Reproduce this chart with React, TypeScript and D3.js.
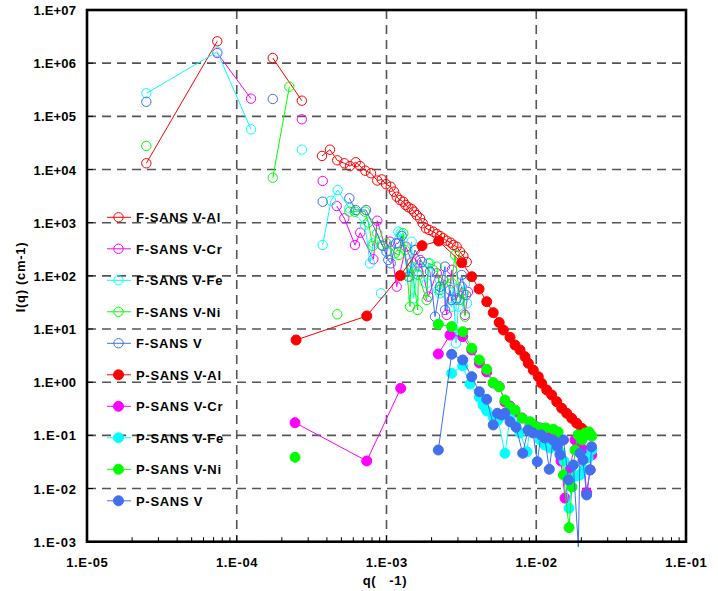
import React from "react";
import * as d3 from "d3";

// ---------- data (q in Å-1, I in cm-1); null marks a break in the line ----------
const F_AL_Q = [2.49e-5, 7.41e-5, null, 1.74e-4, 2.72e-4, null, 3.71e-4, 4.19e-4, 4.69e-4, 5.23e-4, 5.70e-4, 6.23e-4, 6.66e-4, 7.22e-4, 7.88e-4, 8.68e-4, 9.29e-4, 9.93e-4, 1.067e-3, 1.122e-3, 1.17e-3, 1.231e-3, 1.294e-3, 1.343e-3, 1.40e-3, 1.473e-3, 1.527e-3, 1.592e-3, 1.675e-3, 1.746e-3, 1.837e-3, 1.93e-3, 2.055e-3, 2.165e-3, 2.277e-3, 2.395e-3, 2.523e-3, 2.683e-3, 2.793e-3, 2.943e-3, 3.097e-3, 3.26e-3, 3.43e-3];
const F_AL_I = [1.31e4, 2.58e6, null, 1.25e6, 1.97e5, null, 1.80e4, 2.36e4, 1.49e4, 1.31e4, 1.16e4, 1.37e4, 1.16e4, 9.5e3, 8.5e3, 6.2e3, 6.5e3, 5.3e3, 4.75e3, 3.83e3, 3.08e3, 2.67e3, 2.48e3, 2.15e3, 1.95e3, 1.81e3, 1.61e3, 1.39e3, 1.21e3, 973, 783, 728, 676, 612, 561, 508, 458, 421, 380, 353, 284, 236, 182];

const F_CR_Q = [7.41e-5, 1.245e-4, null, 2.72e-4, null, 3.75e-4, null, 4.65e-4, 5.23e-4, 6.16e-4, 6.68e-4, 8.17e-4, 8.68e-4, 1.00e-3, 1.055e-3, 1.17e-3, 1.349e-3, 1.479e-3, 1.631e-3, 1.675e-3, 1.901e-3, 2.165e-3, 2.395e-3, 2.523e-3, 2.735e-3, 2.911e-3, 3.177e-3, 3.342e-3, 3.502e-3];
const F_CR_I = [1.55e6, 2.15e5, null, 8.80e4, null, 6.08e3, null, 2.06e3, 1.21e3, 380, 648, 205, 1.09e3, 284, 439, 62.5, 353, 182, 120, 199, 40.6, 112, 83.5, 18.4, 130, 35.2, 62.5, 18.4, 49.7];

const F_FE_Q = [2.49e-5, 7.41e-5, 1.245e-4, null, 2.72e-4, null, 3.75e-4, 4.26e-4, 4.72e-4, 5.65e-4, 7.18e-4, 7.76e-4, 8.17e-4, null, 9.19e-4, null, 1.00e-3, 1.199e-3, 1.244e-3, 1.435e-3, 1.473e-3, 1.510e-3, 1.631e-3, 1.855e-3, 1.951e-3, 2.218e-3, 2.277e-3, 2.723e-3, 2.793e-3, 2.911e-3, 3.015e-3, 3.342e-3, 3.45e-3];
const F_FE_I = [2.71e5, 1.64e6, 5.70e4, null, 2.36e4, null, 380, 2.59e3, 4.12e3, 1.87e3, 905, 172, 409, null, 47.0, null, 284, 676, 631, 96.4, 439, 37.8, 149, 72.4, 172, 54.2, 47.0, 26.3, 58.4, 5.4, 26.3, 72.4, 30.5];

const F_NI_Q = [2.49e-5, null, 1.74e-4, 2.245e-4, null, 4.69e-4, null, 5.65e-4, 6.16e-4, 7.18e-4, 7.56e-4, 8.09e-4, 8.68e-4, 9.29e-4, 1.00e-3, 1.140e-3, 1.211e-3, 1.294e-3, 1.329e-3, 1.435e-3, 1.473e-3, 1.616e-3, 1.631e-3, 1.855e-3, 1.901e-3, 2.165e-3, 2.277e-3, 2.395e-3, 2.723e-3, 2.866e-3, 3.097e-3, 3.26e-3, 3.342e-3];
const F_NI_I = [2.77e4, null, 7.02e3, 3.61e5, null, 18.9, null, 1.61e3, 1.61e3, 1.61e3, 1.01e3, 365, 631, 380, 409, 266, 247, 631, 306, 26.3, 149, 22.8, 104, 35.2, 172, 149, 54.2, 83.5, 72.4, 247, 35.2, 47.0, 17.1];

const F_V_Q = [2.49e-5, null, 1.74e-4, null, 3.75e-4, null, 5.65e-4, 6.23e-4, 7.30e-4, 9.43e-4, 1.028e-3, 1.067e-3, 1.157e-3, 1.199e-3, 1.264e-3, 1.40e-3, 1.549e-3, 1.726e-3, 1.951e-3, 2.109e-3, 2.277e-3, 2.46e-3, 2.46e-3, 2.655e-3, 2.723e-3, 2.943e-3, 3.177e-3, 3.396e-3];
const F_V_I = [1.88e5, null, 2.12e5, null, 2.48e3, null, 2.88e3, 1.73e3, 1.73e3, 365, 199, 172, 409, 409, 562, 96.4, 306, 182, 120, 17.1, 62.5, 149, 22.8, 54.2, 35.2, 37.8, 104, 43.6];

const P_AL_Q = [2.49e-4, 7.38e-4, 1.236e-3, 1.726e-3, 2.23e-3, 3.18e-3, 3.71e-3, 4.15e-3, 4.67e-3, 5.16e-3, 5.66e-3, 6.03e-3, 6.68e-3, 7.21e-3, 7.79e-3, 8.41e-3, 8.85e-3, 9.55e-3, 1.032e-2, 1.087e-2, 1.175e-2, 1.268e-2, 1.37e-2, 1.48e-2, 1.597e-2, 1.725e-2, 1.862e-2, 2.013e-2, 2.15e-2, 2.29e-2];
const P_AL_I = [6.22, 17.6, 101, 369, 452, 177, 96.4, 56.6, 32.7, 20.3, 13.2, 9.59, 6.98, 5.01, 4.04, 3.02, 2.27, 1.69, 1.27, 0.953, 0.713, 0.574, 0.430, 0.323, 0.260, 0.209, 0.169, 0.136, 0.116, 0.102];

const P_CR_Q = [2.45e-4, 7.38e-4, 1.244e-3, null, 2.218e-3, 2.655e-3, 3.228e-3, 3.71e-3, 4.17e-3, 4.67e-3, 5.16e-3, 5.66e-3, 6.18e-3, 6.68e-3, 7.21e-3, 8.04e-3, 9.08e-3, 9.82e-3, 1.06e-2, 1.197e-2, 1.294e-2, 1.376e-2, 1.463e-2, 1.556e-2, 1.68e-2, 1.815e-2, 1.96e-2, 2.05e-2, 2.17e-2, 2.29e-2, 2.35e-2];
const P_CR_I = [0.173, 0.033, 0.767, null, 3.39, 7.7, 7.2, 4.04, 2.30, 1.56, 0.966, 0.822, 0.425, 0.356, 0.275, 0.212, 0.164, 0.150, 0.138, 0.116, 0.102, 0.075, 0.033, 0.0066, 0.0224, 0.082, 0.069, 0.053, 0.00836, 0.0224, 0.043];

const P_FE_Q = [2.723e-3, 3.228e-3, 3.61e-3, 4.17e-3, 4.41e-3, 4.67e-3, 5.16e-3, 5.56e-3, 6.18e-3, 6.68e-3, 7.21e-3, 7.79e-3, 8.67e-3, 9.08e-3, 9.82e-3, 1.06e-2, 1.14e-2, 1.24e-2, 1.33e-2, 1.44e-2, 1.532e-2, 1.655e-2, 1.733e-2, 1.841e-2, 1.96e-2, 2.08e-2, 2.22e-2, 2.35e-2];
const P_FE_I = [1.47, 2.02, 0.925, 0.520, 0.372, 0.288, 0.219, 0.195, 0.046, 0.212, 0.157, 0.111, 0.049, 0.157, 0.116, 0.082, 0.066, 0.058, 0.082, 0.049, 0.033, 0.00425, 0.0158, 0.0172, 0.018, 0.0224, 0.0376, 0.053];

const P_NI_Q = [2.45e-4, null, 2.218e-3, 2.723e-3, 3.228e-3, 3.71e-3, 4.17e-3, 4.67e-3, 5.16e-3, 5.66e-3, 6.18e-3, 6.68e-3, 7.21e-3, 8.04e-3, 9.08e-3, 9.82e-3, 1.06e-2, 1.161e-2, 1.30e-2, 1.40e-2, 1.48e-2, 1.52e-2, 1.655e-2, 1.733e-2, 1.815e-2, 1.90e-2, 2.02e-2, 2.12e-2, 2.25e-2, 2.35e-2];
const P_NI_I = [0.0387, null, 12.3, 11.1, 8.9, 4.35, 2.62, 1.75, 0.98, 0.822, 0.462, 0.341, 0.300, 0.212, 0.181, 0.150, 0.136, 0.138, 0.130, 0.116, 0.082, 0.018, 0.00184, 0.0107, 0.053, 0.102, 0.082, 0.111, 0.116, 0.097];

const P_V_Q = [2.218e-3, 2.723e-3, 3.228e-3, 3.71e-3, 4.17e-3, 4.67e-3, 5.16e-3, 5.50e-3, 5.90e-3, 6.18e-3, 6.68e-3, 7.33e-3, 8.12e-3, 8.81e-3, 9.51e-3, 1.016e-2, 1.076e-2, 1.14e-2, 1.222e-2, 1.294e-2, 1.376e-2, 1.44e-2, 1.52e-2, 1.64e-2, 1.77e-2, 1.91e-2, 1.96e-2, 2.05e-2, 2.17e-2, 2.29e-2, 2.34e-2];
const P_V_I = [0.053, 3.35, 2.62, 1.27, 0.662, 0.477, 0.157, 0.260, 0.242, 0.260, 0.181, 0.142, 0.046, 0.126, 0.111, 0.032, 0.102, 0.089, 0.023, 0.082, 0.063, 0.043, 0.082, 0.0145, 0.0277, 0.000796, 0.046, 0.0344, 0.00757, 0.0224, 0.061];

const SERIES_NAMES = ["F-SANS V-Al", "F-SANS V-Cr", "F-SANS V-Fe", "F-SANS V-Ni", "F-SANS V", "P-SANS V-Al", "P-SANS V-Cr", "P-SANS V-Fe", "P-SANS V-Ni", "P-SANS V"];
const SERIES_Q = [F_AL_Q, F_CR_Q, F_FE_Q, F_NI_Q, F_V_Q, P_AL_Q, P_CR_Q, P_FE_Q, P_NI_Q, P_V_Q];
const SERIES_I = [F_AL_I, F_CR_I, F_FE_I, F_NI_I, F_V_I, P_AL_I, P_CR_I, P_FE_I, P_NI_I, P_V_I];
const SERIES_COLORS = ["#FF0000", "#FF00FF", "#00FFFF", "#00FF00", "#4070F0", "#FF0000", "#FF00FF", "#00FFFF", "#00FF00", "#4070F0"];
const SERIES_FILLED = [false, false, false, false, false, true, true, true, true, true];

const X_DOMAIN = [1e-5, 1e-1];
const Y_DOMAIN = [1e-3, 1e7];
const X_TITLE = "q(   -1)";
const Y_TITLE = "I(q) (cm-1)";

const FONT = "'Liberation Sans', Arial, Helvetica, sans-serif";

function fmt(v: number) {
  const e = Math.round(Math.log10(v));
  const s = e < 0 ? "-" : "+";
  const a = Math.abs(e);
  return `1.E${s}${a < 10 ? "0" + a : a}`;
}

export default function App() {
  const L = 87, R = 686, T = 10, B = 541.7;
  const x = d3.scaleLog().domain(X_DOMAIN).range([L, R]);
  const y = d3.scaleLog().domain(Y_DOMAIN).range([B, T]);

  const isDecade = (t: number) => Math.abs(Math.log10(t) - Math.round(Math.log10(t))) < 1e-9;
  const xMajor = x.ticks().filter(isDecade);
  const yMajor = y.ticks().filter(isDecade);
  const xMinor = x.ticks().filter((t) => !isDecade(t));
  const yMinor = y.ticks().filter((t) => !isDecade(t));

  const series = SERIES_NAMES.map((name, i) => {
    const qs = SERIES_Q[i];
    const is = SERIES_I[i];
    const n = Math.min(qs.length, is.length);
    const pts: [number | null, number | null][] = [];
    for (let k = 0; k < n; k++) pts.push([qs[k], is[k]]);
    return { name, pts, color: SERIES_COLORS[i], filled: SERIES_FILLED[i] };
  });

  const line = d3
    .line<[number | null, number | null]>()
    .defined((d) => d[0] != null && d[1] != null)
    .x((d) => x(d[0] as number))
    .y((d) => y(d[1] as number));

  const legendY0 = 217.3;
  const legendDy = 31.5;

  return (
    <svg
      width={718}
      height={591}
      style={{ position: "absolute", left: 0, top: 0, background: "#fff" }}
      fontFamily={FONT}
    >
      <defs>
        <clipPath id="plotclip">
          <rect x={L} y={T} width={R - L} height={B - T} />
        </clipPath>
      </defs>
      <rect x={0} y={0} width={718} height={591} fill="#fff" />

      {/* grid */}
      {yMajor.filter((t) => t > Y_DOMAIN[0] && t < Y_DOMAIN[1]).map((t) => (
        <line key={"gy" + t} x1={L} x2={R} y1={y(t)} y2={y(t)} stroke="#555" strokeWidth={1.6} strokeDasharray="9,6" />
      ))}
      {xMajor.filter((t) => t > X_DOMAIN[0] && t < X_DOMAIN[1]).map((t) => (
        <line key={"gx" + t} x1={x(t)} x2={x(t)} y1={T} y2={B} stroke="#555" strokeWidth={1.6} strokeDasharray="9,6" />
      ))}

      {/* ticks inside */}
      {yMinor.map((t) => (
        <line key={"my" + t} x1={L} x2={L + 4.5} y1={y(t)} y2={y(t)} stroke="#000" strokeWidth={1} />
      ))}
      {xMinor.map((t) => (
        <line key={"mx" + t} x1={x(t)} x2={x(t)} y1={B} y2={B - 4.5} stroke="#000" strokeWidth={1} />
      ))}
      {yMajor.map((t) => (
        <line key={"My" + t} x1={L} x2={L + 6} y1={y(t)} y2={y(t)} stroke="#000" strokeWidth={1} />
      ))}
      {xMajor.map((t) => (
        <line key={"Mx" + t} x1={x(t)} x2={x(t)} y1={B} y2={B - 6} stroke="#000" strokeWidth={1} />
      ))}

      {/* series */}
      {series.map((s, i) => (
        <g key={"s" + i}>
          <path d={line(s.pts) || ""} fill="none" stroke={s.color} strokeWidth={1} />
          <g clipPath="url(#plotclip)">
            {s.pts
              .filter((d) => d[0] != null && d[1] != null)
              .map((d, k) => (
                <circle
                  key={k}
                  cx={x(d[0] as number)}
                  cy={y(d[1] as number)}
                  r={s.filled ? 5 : 4.7}
                  fill={s.filled ? s.color : "none"}
                  stroke={s.color}
                  strokeWidth={1}
                />
              ))}
          </g>
        </g>
      ))}

      {/* frame */}
      <rect x={L} y={T} width={R - L} height={B - T} fill="none" stroke="#000" strokeWidth={2.6} />

      {/* tick labels */}
      {yMajor.map((t) => (
        <text key={"ly" + t} x={76} y={y(t) + 5} textAnchor="end" fontSize={13} fontWeight="bold" textLength={42.5} lengthAdjust="spacing">
          {fmt(t)}
        </text>
      ))}
      {xMajor.map((t) => (
        <text key={"lx" + t} x={x(t)} y={566.7} textAnchor="middle" fontSize={13} fontWeight="bold" textLength={41.5} lengthAdjust="spacing">
          {fmt(t)}
        </text>
      ))}

      {/* axis titles */}
      <text x={385} y={585} textAnchor="middle" fontSize={13} fontWeight="bold" letterSpacing={0.7} style={{ whiteSpace: "pre" }}>
        {X_TITLE}
      </text>
      <text transform="translate(24.5,277) rotate(-90)" textAnchor="middle" fontSize={13} fontWeight="bold" letterSpacing={0.7}>
        {Y_TITLE}
      </text>

      {/* legend */}
      {series.map((s, i) => {
        const ly = legendY0 + i * legendDy;
        return (
          <g key={"lg" + i}>
            <line x1={107} x2={131} y1={ly} y2={ly} stroke={s.color} strokeWidth={1} />
            <circle cx={118.5} cy={ly} r={s.filled ? 5 : 4.7} fill={s.filled ? s.color : "none"} stroke={s.color} strokeWidth={1} />
            <text x={136} y={ly + 4.7} fontSize={13} fontWeight="bold" letterSpacing={0.7}>
              {s.name}
            </text>
          </g>
        );
      })}
    </svg>
  );
}
